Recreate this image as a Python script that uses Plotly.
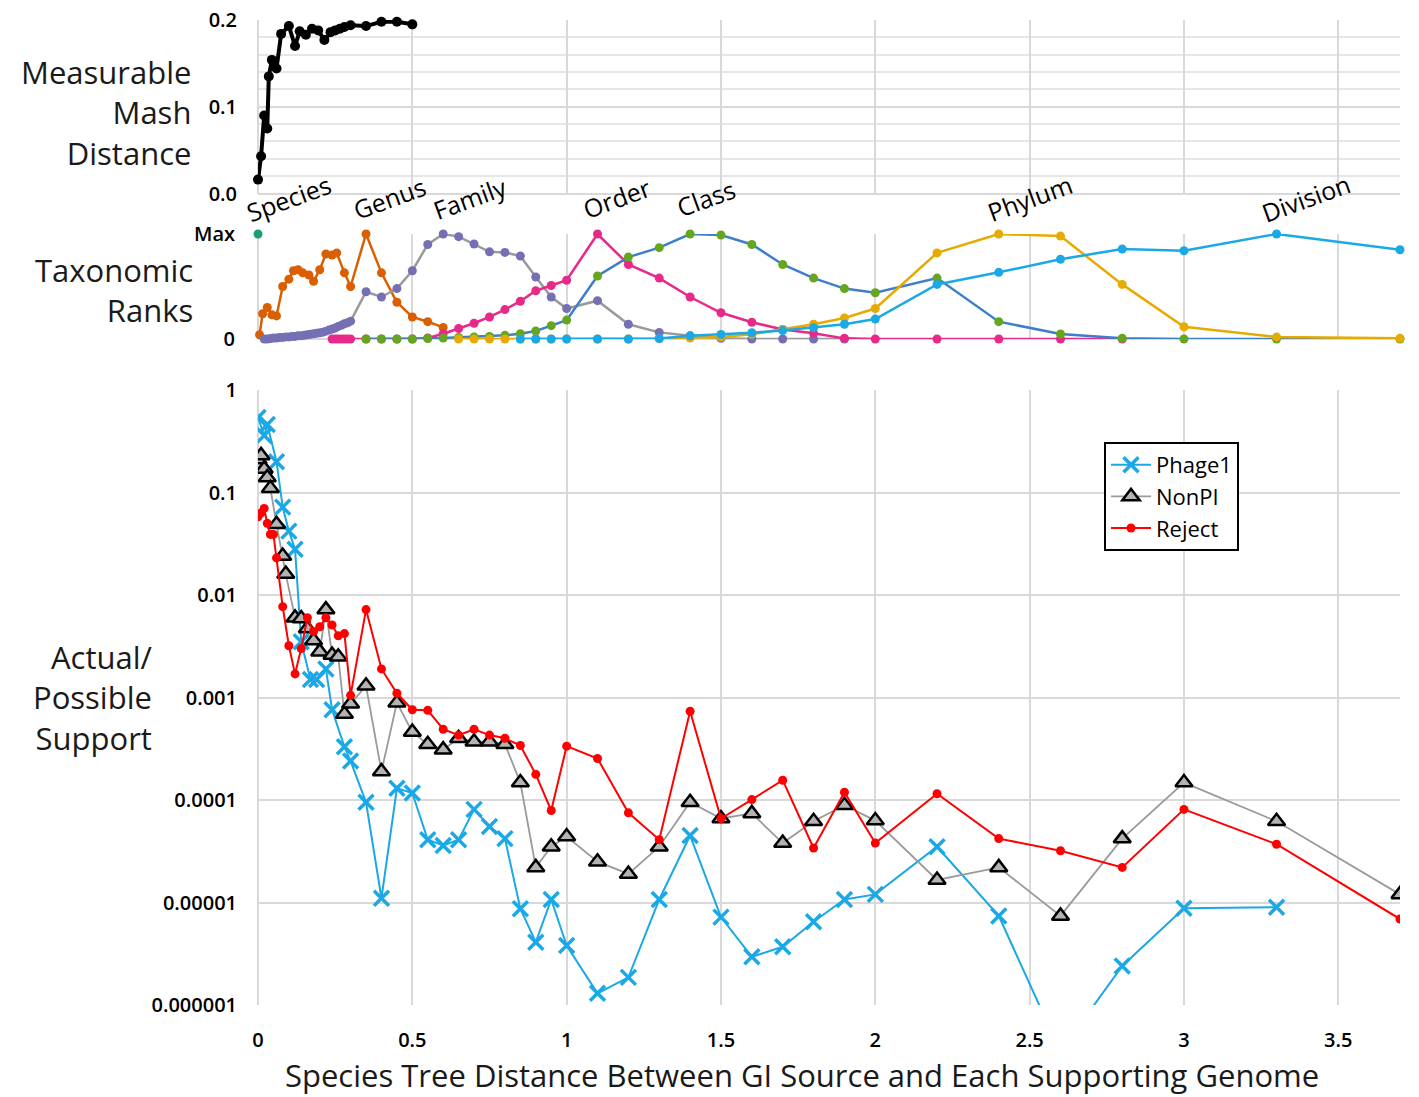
import plotly.graph_objects as go

# ---------------- Top panel: measurable Mash distance ----------------
mash_x = [0, 0.01, 0.02, 0.03, 0.035, 0.045, 0.06, 0.075, 0.1, 0.12, 0.135, 0.155,
          0.175, 0.195, 0.215, 0.235, 0.25, 0.265, 0.28, 0.3, 0.35, 0.4, 0.45, 0.5]
mash_y = [0.016, 0.043, 0.090, 0.075, 0.135, 0.154, 0.144, 0.184, 0.193, 0.170, 0.187, 0.183,
          0.190, 0.188, 0.177, 0.186, 0.188, 0.190, 0.192, 0.194, 0.193, 0.198, 0.198, 0.195]

# ---------------- Middle panel: taxonomic rank profiles (peak = Max) ----------------
species_x = [0]
species_y = [1.0]

genus_x = [0.005, 0.015, 0.03, 0.045, 0.06, 0.08, 0.1, 0.115, 0.13, 0.145, 0.165, 0.18,
           0.2, 0.22, 0.24, 0.255, 0.28, 0.3, 0.35, 0.4, 0.45, 0.5, 0.55, 0.6]
genus_y = [0.04, 0.24, 0.30, 0.23, 0.22, 0.50, 0.57, 0.65, 0.66, 0.63, 0.61, 0.55,
           0.66, 0.81, 0.80, 0.82, 0.63, 0.50, 1.0, 0.63, 0.35, 0.21, 0.165, 0.11]

family_x = [0.02, 0.03, 0.04, 0.05, 0.06, 0.07, 0.08, 0.09, 0.10, 0.11, 0.12, 0.13, 0.14,
            0.15, 0.16, 0.17, 0.18, 0.19, 0.20, 0.21, 0.22, 0.23, 0.24, 0.25, 0.26, 0.27,
            0.28, 0.29, 0.30, 0.35, 0.4, 0.45, 0.5, 0.55, 0.6, 0.65, 0.7, 0.75, 0.8, 0.85,
            0.9, 0.95, 1.0, 1.1, 1.2, 1.3, 1.4, 1.5, 1.6, 1.7, 1.8, 1.9]
family_y = [0.0, 0.0, 0.005, 0.01, 0.01, 0.015, 0.015, 0.02, 0.02, 0.025, 0.025, 0.03, 0.03,
            0.035, 0.04, 0.045, 0.05, 0.055, 0.06, 0.065, 0.075, 0.085, 0.095, 0.105, 0.12, 0.13,
            0.145, 0.155, 0.17, 0.45, 0.40, 0.48, 0.65, 0.90, 1.0, 0.975, 0.905, 0.83, 0.825, 0.79,
            0.59, 0.40, 0.29, 0.365, 0.14, 0.063, 0.03, 0.006, 0.0, 0.0, 0.0, 0.0]

order_x = [0.24, 0.25, 0.26, 0.27, 0.28, 0.29, 0.30, 0.35, 0.4, 0.45, 0.5, 0.55, 0.6, 0.65,
           0.7, 0.75, 0.8, 0.85, 0.9, 0.95, 1.0, 1.1, 1.2, 1.3, 1.4, 1.5, 1.6, 1.7, 1.8, 1.9,
           2.0, 2.2, 2.4, 2.6, 2.8]
order_y = [0, 0, 0, 0, 0, 0, 0, 0, 0, 0, 0, 0.01, 0.05, 0.10,
           0.15, 0.21, 0.28, 0.36, 0.46, 0.51, 0.56, 1.0, 0.71, 0.58, 0.40, 0.25, 0.16, 0.09, 0.054, 0.006,
           0, 0, 0, 0, 0]

class_x = [0.35, 0.4, 0.45, 0.5, 0.55, 0.6, 0.65, 0.7, 0.75, 0.8, 0.85, 0.9, 0.95, 1.0,
           1.1, 1.2, 1.3, 1.4, 1.5, 1.6, 1.7, 1.8, 1.9, 2.0, 2.2, 2.4, 2.6, 2.8, 3.0, 3.3, 3.7]
class_y = [0, 0, 0, 0, 0.005, 0.01, 0.015, 0.02, 0.025, 0.035, 0.05, 0.076, 0.127, 0.18,
           0.60, 0.78, 0.87, 1.0, 0.99, 0.90, 0.71, 0.58, 0.48, 0.44, 0.58, 0.165, 0.048, 0.006, 0, 0, 0]

phylum_x = [0.65, 0.7, 0.75, 0.8, 0.85, 0.9, 0.95, 1.0, 1.1, 1.2, 1.3, 1.4, 1.5, 1.6,
            1.7, 1.8, 1.9, 2.0, 2.2, 2.4, 2.6, 2.8, 3.0, 3.3, 3.7]
phylum_y = [0, 0, 0, 0, 0, 0, 0, 0, 0, 0, 0.003, 0.01, 0.02, 0.045,
            0.09, 0.14, 0.20, 0.29, 0.82, 1.0, 0.98, 0.52, 0.117, 0.02, 0.006]

division_x = [0.85, 0.9, 0.95, 1.0, 1.1, 1.2, 1.3, 1.4, 1.5, 1.6, 1.7, 1.8, 1.9, 2.0,
              2.2, 2.4, 2.6, 2.8, 3.0, 3.3, 3.7]
division_y = [0, 0, 0, 0, 0, 0, 0.005, 0.03, 0.044, 0.06, 0.08, 0.108, 0.14, 0.19,
              0.52, 0.635, 0.76, 0.857, 0.84, 1.0, 0.85]

rank_labels = ["Species", "Genus", "Family", "Order", "Class", "Phylum", "Division"]
rank_label_x = [0.10, 0.425, 0.686, 1.162, 1.45, 2.5, 3.395]

# ---------------- Bottom panel: actual / possible support ----------------
phage_x = [0, 0.02, 0.03, 0.06, 0.08, 0.10, 0.12, 0.14, 0.17, 0.19, 0.22, 0.24, 0.28, 0.30,
           0.35, 0.40, 0.45, 0.50, 0.55, 0.60, 0.65, 0.70, 0.75, 0.80, 0.85, 0.90, 0.95, 1.0,
           1.1, 1.2, 1.3, 1.4, 1.5, 1.6, 1.7, 1.8, 1.9, 2.0, 2.2, 2.4, 2.6, 2.8, 3.0, 3.3]
phage_y = [0.54, 0.36, 0.46, 0.20, 0.072, 0.042, 0.028, 0.0035, 0.0015, 0.0015, 0.0019, 0.00076,
           0.00033, 0.00024, 9.5e-5, 1.1e-5, 1.3e-4, 1.17e-4, 4.1e-5, 3.6e-5, 4.1e-5, 8.1e-5,
           5.5e-5, 4.2e-5, 8.7e-6, 4.1e-6, 1.07e-5, 3.8e-6, 1.3e-6, 1.86e-6, 1.07e-5, 4.5e-5,
           7.2e-6, 2.95e-6, 3.7e-6, 6.5e-6, 1.07e-5, 1.2e-5, 3.5e-5, 7.4e-6, 3.5e-7, 2.4e-6,
           8.8e-6, 9.0e-6]

nonpi_x = [0, 0.01, 0.02, 0.03, 0.04, 0.06, 0.08, 0.09, 0.12, 0.14, 0.16, 0.18, 0.2, 0.22,
           0.24, 0.26, 0.28, 0.3, 0.35, 0.4, 0.45, 0.5, 0.55, 0.6, 0.65, 0.7, 0.75, 0.8, 0.85,
           0.9, 0.95, 1.0, 1.1, 1.2, 1.3, 1.4, 1.5, 1.6, 1.7, 1.8, 1.9, 2.0, 2.2, 2.4, 2.6,
           2.8, 3.0, 3.3, 3.7]
nonpi_y = [0.21, 0.23, 0.17, 0.14, 0.11, 0.049, 0.024, 0.016, 0.006, 0.0059, 0.0047, 0.0036,
           0.0028, 0.0072, 0.0026, 0.0025, 0.00069, 0.00087, 0.0013, 0.00019, 0.00089, 0.00046,
           0.00035, 0.00031, 0.0004, 0.00037, 0.00037, 0.00035, 0.000148, 2.2e-5, 3.5e-5, 4.4e-5,
           2.5e-5, 1.9e-5, 3.5e-5, 9.5e-5, 6.6e-5, 7.4e-5, 3.8e-5, 6.2e-5, 8.9e-5, 6.3e-5,
           1.66e-5, 2.2e-5, 7.4e-6, 4.2e-5, 1.48e-4, 6.2e-5, 1.2e-5]

reject_x = [0, 0.01, 0.02, 0.03, 0.04, 0.05, 0.06, 0.08, 0.1, 0.12, 0.14, 0.16, 0.18, 0.2,
            0.22, 0.24, 0.26, 0.28, 0.3, 0.35, 0.4, 0.45, 0.5, 0.55, 0.6, 0.65, 0.7, 0.75, 0.8,
            0.85, 0.9, 0.95, 1.0, 1.1, 1.2, 1.3, 1.4, 1.5, 1.6, 1.7, 1.8, 1.9, 2.0, 2.2, 2.4,
            2.6, 2.8, 3.0, 3.3, 3.7]
reject_y = [0.058, 0.063, 0.07, 0.05, 0.039, 0.039, 0.023, 0.0077, 0.0032, 0.0017, 0.003, 0.006,
            0.0044, 0.0049, 0.006, 0.0051, 0.004, 0.0042, 0.00105, 0.0072, 0.0019, 0.0011, 0.00076,
            0.00075, 0.00049, 0.00043, 0.00049, 0.00043, 0.0004, 0.00034, 0.000178, 7.9e-5,
            3.35e-4, 2.54e-4, 7.5e-5, 4.1e-5, 7.35e-4, 6.6e-5, 1.01e-4, 1.56e-4, 3.4e-5, 1.19e-4,
            3.8e-5, 1.15e-4, 4.2e-5, 3.2e-5, 2.2e-5, 8.1e-5, 3.7e-5, 6.9e-6]

x_ticks = [0, 0.5, 1, 1.5, 2, 2.5, 3, 3.5]
x_ticktext = ["0", "0.5", "1", "1.5", "2", "2.5", "3", "3.5"]
support_ticks = [1, 0.1, 0.01, 0.001, 0.0001, 0.00001, 0.000001]
support_ticktext = ["1", "0.1", "0.01", "0.001", "0.0001", "0.00001", "0.000001"]

# ---------------- Figure ----------------
W, H = 1419, 1097
FONT = "Open Sans"
GRID = "#d9d9d9"

x_dom = [258 / W, 1400 / W]
top_dom = [1 - 193.5 / H, 1 - 20 / H]
mid_dom = [1 - 339 / H, 1 - 234 / H]
bot_dom = [1 - 1005 / H, 1 - 390 / H]

fig = go.Figure()

# top panel
fig.add_trace(go.Scatter(x=mash_x, y=mash_y, xaxis="x3", yaxis="y3", mode="lines+markers",
                         line=dict(color="black", width=4), marker=dict(color="black", size=10),
                         showlegend=False, cliponaxis=False))

# middle panel
def rank_trace(xs, ys, marker_color, line_color):
    return go.Scatter(x=xs, y=ys, xaxis="x2", yaxis="y2", mode="lines+markers",
                      line=dict(color=line_color, width=2.5),
                      marker=dict(color=marker_color, size=9),
                      showlegend=False, cliponaxis=False)

fig.add_trace(rank_trace(species_x, species_y, "#1b9e77", "#1b9e77"))
fig.add_trace(rank_trace(genus_x, genus_y, "#d95f02", "#d95f02"))
fig.add_trace(rank_trace(family_x, family_y, "#7570b3", "#9a9a9a"))
fig.add_trace(rank_trace(order_x, order_y, "#e7298a", "#e7298a"))
fig.add_trace(rank_trace(class_x, class_y, "#66a61e", "#3d7fcc"))
fig.add_trace(rank_trace(phylum_x, phylum_y, "#e6ab02", "#e6ab02"))
fig.add_trace(rank_trace(division_x, division_y, "#1aa9e6", "#1aa9e6"))

# bottom panel
fig.add_trace(go.Scatter(x=phage_x, y=phage_y, name="Phage1", mode="lines+markers",
                         line=dict(color="#1aa9e6", width=2),
                         marker=dict(symbol="x-thin", size=15, color="#1aa9e6",
                                     line=dict(color="#1aa9e6", width=3.5))))
fig.add_trace(go.Scatter(x=nonpi_x, y=nonpi_y, name="NonPI", mode="lines+markers",
                         line=dict(color="#9a9a9a", width=1.8),
                         marker=dict(symbol="triangle-up", size=15, color="#b3b3b3",
                                     line=dict(color="black", width=2.5))))
fig.add_trace(go.Scatter(x=reject_x, y=reject_y, name="Reject", mode="lines+markers",
                         line=dict(color="#ff0000", width=2),
                         marker=dict(symbol="circle", size=9, color="#ff0000")))

axis_font = dict(family=FONT, size=20, color="black", weight=600)

fig.update_layout(
    width=W, height=H,
    margin=dict(l=0, r=0, t=0, b=0),
    paper_bgcolor="white", plot_bgcolor="white",
    font=dict(family=FONT, color="black"),
    xaxis=dict(domain=x_dom, anchor="y", range=[0, 3.7], tickvals=x_ticks, ticktext=x_ticktext,
               showgrid=True, gridcolor=GRID, gridwidth=2, zeroline=True, zerolinecolor=GRID,
               zerolinewidth=2, showline=False, ticks="", tickfont=axis_font,
               ticklabelstandoff=21, automargin=False),
    yaxis=dict(domain=bot_dom, anchor="x", type="log", range=[-6, 0], tickvals=support_ticks,
               ticktext=support_ticktext, showgrid=True, gridcolor=GRID, gridwidth=2,
               showline=False, ticks="", tickfont=axis_font, ticklabelstandoff=20,
               automargin=False),
    xaxis2=dict(domain=x_dom, anchor="y2", matches="x", range=[0, 3.7], tickvals=x_ticks,
                showticklabels=False, showgrid=True, gridcolor=GRID, gridwidth=2,
                zeroline=True, zerolinecolor=GRID, zerolinewidth=2, ticks="", automargin=False),
    yaxis2=dict(domain=mid_dom, anchor="x2", range=[0, 1], tickvals=[0, 1], ticktext=["0", "Max"],
                showgrid=False, zeroline=True, zerolinecolor=GRID, zerolinewidth=2,
                ticks="", tickfont=axis_font, ticklabelstandoff=22, automargin=False),
    xaxis3=dict(domain=x_dom, anchor="y3", matches="x", range=[0, 3.7], tickvals=x_ticks,
                showticklabels=False, showgrid=True, gridcolor=GRID, gridwidth=2,
                zeroline=True, zerolinecolor=GRID, zerolinewidth=2, ticks="", automargin=False),
    yaxis3=dict(domain=top_dom, anchor="x3", range=[0, 0.2], tickvals=[0, 0.1, 0.2],
                ticktext=["0.0", "0.1", "0.2"], showgrid=True, gridcolor=GRID, gridwidth=2,
                minor=dict(dtick=0.02, showgrid=True, gridcolor="#e6e6e6", gridwidth=1.5),
                zeroline=True, zerolinecolor=GRID, zerolinewidth=2,
                ticks="", tickfont=axis_font, ticklabelstandoff=20, automargin=False),
    legend=dict(x=1104 / W, y=1 - 442 / H, xanchor="left", yanchor="top",
                bgcolor="white", bordercolor="black", borderwidth=2,
                font=dict(family=FONT, size=22, color="black"),
                itemwidth=40, tracegroupgap=0),
)

# panel titles
title_font = dict(family=FONT, size=31, color="#1a1a1a")
panel_titles = [("Measurable<br>Mash<br>Distance", 193, 112),
                ("Taxonomic<br>Ranks", 195, 290),
                ("Actual/<br>Possible<br>Support", 155, 697)]
for txt, rx, cy in panel_titles:
    fig.add_annotation(text=txt, xref="paper", yref="paper", x=rx / W, y=1 - cy / H,
                       xanchor="right", yanchor="middle", align="right",
                       showarrow=False, font=title_font)

fig.add_annotation(text="Species Tree Distance Between GI Source and Each Supporting Genome",
                   xref="paper", yref="paper", x=802 / W, y=1 - 1075 / H,
                   xanchor="center", yanchor="middle", showarrow=False,
                   font=dict(family=FONT, size=31, color="#1a1a1a"))

# rank names over the middle panel
for label, lx in zip(rank_labels, rank_label_x):
    fig.add_annotation(text=label, xref="x2", yref="paper", x=lx, y=1 - 198 / H,
                       xanchor="center", yanchor="middle", textangle=-20, showarrow=False,
                       font=dict(family=FONT, size=25, color="black"))

fig.write_html("out.html")
